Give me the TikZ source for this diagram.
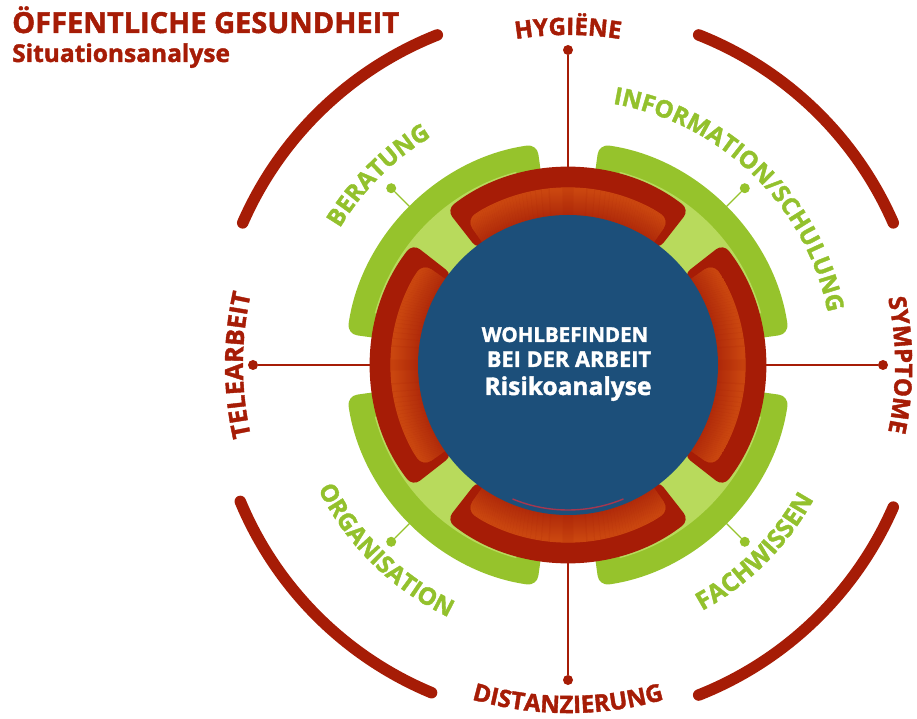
\documentclass[tikz,border=0pt]{standalone}
\usepackage{fontspec}
\setmainfont{Open Sans}[BoldFeatures={FakeBold=1.6}]
\usetikzlibrary{decorations.text}

\definecolor{dred}{HTML}{A61C06}
\definecolor{rorange}{HTML}{CA460F}
\definecolor{rmid}{HTML}{B02A0A}
\definecolor{gband}{HTML}{96C32C}
\definecolor{glight}{HTML}{B8DA5C}
\definecolor{bluec}{HTML}{1C4F7A}
\definecolor{gtext}{HTML}{93C12D}
\definecolor{pinkline}{HTML}{A5374F}

\tikzset{
  reddot/.style={circle, fill=dred, inner sep=0pt, minimum size=10pt},
  greendot/.style={circle, fill=gband, inner sep=0pt, minimum size=10pt},
  redline/.style={draw=dred, line width=1.4pt},
  greenline/.style={draw=gband, line width=1.4pt},
  bigarc/.style={draw=dred, line width=11.5pt, line cap=round},
  lab/.style={font=\bfseries\fontsize{#1}{#1}\selectfont},
}

\begin{document}
\begin{tikzpicture}[x=1pt,y=1pt]
\useasboundingbox (-568,-354) rectangle (349,365);

% outer arcs
\foreach \c in {46,134,225,314} {
  \pgfmathsetmacro\s{\c-22.4}
  \pgfmathsetmacro\e{\c+22.4}
  \draw[bigarc] (\s:355pt) arc[start angle=\s, end angle=\e, radius=355pt];
}

% green sectors
\foreach \c in {45,135,225,315} {
  \pgfmathsetmacro\s{\c-37}
  \pgfmathsetmacro\e{\c+37}
  \fill[gband, rounded corners=10pt] (\s:223pt) arc[start angle=\s, end angle=\e, radius=223pt]
     -- (\e:140pt) arc[start angle=\e, end angle=\s, radius=140pt] -- cycle;
  \pgfmathsetmacro\s{\c-30}
  \pgfmathsetmacro\e{\c+30}
  \fill[glight] (\s:200pt) arc[start angle=\s, end angle=\e, radius=200pt]
     -- (\e:140pt) arc[start angle=\e, end angle=\s, radius=140pt] -- cycle;
}

% red sectors
\foreach \c in {0,90,180,270} {
  \pgfmathsetmacro\s{\c-38}
  \pgfmathsetmacro\e{\c+38}
  \fill[dred, rounded corners=9pt] (\s:197pt) arc[start angle=\s, end angle=\e, radius=197pt]
     -- (\e:146pt) arc[start angle=\e, end angle=\s, radius=146pt] -- cycle;
  \pgfmathsetmacro\s{\c-35}
  \pgfmathsetmacro\e{\c+35}
  \begin{scope}
    \clip[rounded corners=10pt] (\s:177pt) arc[start angle=\s, end angle=\e, radius=177pt]
       -- (\e:140pt) arc[start angle=\e, end angle=\s, radius=140pt] -- cycle;
    \foreach \i in {0,...,32} {
      \pgfmathsetmacro\rr{145+\i}
      \pgfmathsetmacro\m{max(0,min(100,(\rr-150)*4))}
      \draw[line width=1.3pt, rorange!\m!rmid] (0,0) circle (\rr pt);
    }
  \end{scope}
}

% blue centre
\fill[bluec] (0,0) circle (150pt);
\draw[pinkline, line width=1.4pt] (247.5:145pt) arc[start angle=247.5, end angle=292.5, radius=145pt];

% centre text
\node[lab=20.5, text=white, anchor=base, inner sep=0pt] (w1) at (-3,23) {WOHLBEFINDEN};
\node[lab=21.8, text=white, anchor=base, inner sep=0pt] (w2) at (1,-2) {BEI DER ARBEIT};
\node[lab=24.5, text=white, anchor=base, inner sep=0pt] (w3) at (0,-30) {Risikoanalyse};

% red axis dots and lines
\node[reddot] (hdot) at (90:315pt) {};
\node[reddot] (ddot) at (270:315pt) {};
\node[reddot] (tdot) at (180:315pt) {};
\node[reddot] (sdot) at (0:315pt) {};
\coordinate (rtop) at (90:197pt);
\coordinate (rbot) at (270:197pt);
\coordinate (rleft) at (180:197pt);
\coordinate (rright) at (0:197pt);
\draw[redline] (rtop) -- (hdot);
\draw[redline] (rbot) -- (ddot);
\draw[redline] (rleft) -- (tdot);
\draw[redline] (rright) -- (sdot);

% green dots and lines
\node[greendot] (bdot) at (135:250pt) {};
\node[greendot] (idot) at (45:250pt) {};
\node[greendot] (odot) at (225:250pt) {};
\node[greendot] (fdot) at (315:250pt) {};
\coordinate (gb) at (135:222pt);
\coordinate (gi) at (45:222pt);
\coordinate (go) at (225:222pt);
\coordinate (gf) at (315:222pt);
\draw[greenline] (gb) -- (bdot);
\draw[greenline] (gi) -- (idot);
\draw[greenline] (go) -- (odot);
\draw[greenline] (gf) -- (fdot);

% red curved labels
\path[decorate, decoration={text along path, text align=center, text color=dred,
  text={|\bfseries\fontsize{24}{24}\selectfont|HYGIËNE}}]
  (150:330pt) arc[start angle=150, end angle=30, radius=330pt];
\path[decorate, decoration={text along path, text align=center, text color=dred,
  text={|\bfseries\fontsize{24}{24}\selectfont|SYMPTOME}}]
  (60:327pt) arc[start angle=60, end angle=-60, radius=327pt];
\path[decorate, decoration={text along path, text align=center, text color=dred,
  text={|\bfseries\fontsize{25}{25}\selectfont|TELEARBEIT}}]
  (240:325pt) arc[start angle=240, end angle=120, radius=325pt];
\path[decorate, decoration={text along path, text align=center, text color=dred,
  text={|\bfseries\fontsize{24}{24}\selectfont|DISTANZIERUNG}}]
  (210:348pt) arc[start angle=210, end angle=330, radius=348pt];

% green curved labels
\path[decorate, decoration={text along path, text align=center, text color=gtext,
  text={|\bfseries\fontsize{24}{24}\selectfont|BERATUNG}}]
  (195:266pt) arc[start angle=195, end angle=75, radius=266pt];
\path[decorate, decoration={text along path, text align=center, text color=gtext,
  text={|\bfseries\fontsize{24}{24}\selectfont|INFORMATION/SCHULUNG}}]
  (105.8:265pt) arc[start angle=105.8, end angle=-14.2, radius=265pt];
\path[decorate, decoration={text along path, text align=center, text color=gtext,
  text={|\bfseries\fontsize{24}{24}\selectfont|ORGANISATION}}]
  (165.5:279pt) arc[start angle=165.5, end angle=285.5, radius=279pt];
\path[decorate, decoration={text along path, text align=center, text color=gtext,
  text={|\bfseries\fontsize{25}{25}\selectfont|FACHWISSEN}}]
  (255:280pt) arc[start angle=255, end angle=375, radius=280pt];

% title
\node[lab=29, text=dred, anchor=base west, inner sep=0pt] (title) at (-556,332) {ÖFFENTLICHE GESUNDHEIT};
\node[lab=24.5, text=dred, anchor=base west, inner sep=0pt] (subtitle) at (-556,303) {Situationsanalyse};
\end{tikzpicture}
\end{document}
